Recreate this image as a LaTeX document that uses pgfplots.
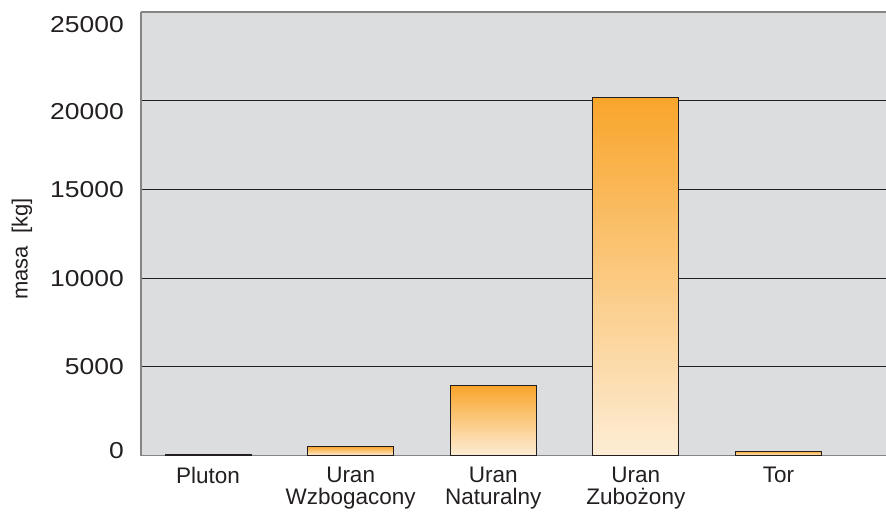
\documentclass[border=0pt]{standalone}
\usepackage{pgfplots}
\pgfplotsset{compat=1.18}
\usepackage{fontspec}
\setmainfont{Liberation Sans}
\newfontfamily\numfont{Liberation Sans}[FakeStretch=1.15]
\definecolor{bggray}{HTML}{DCDDDF}
\definecolor{axgray}{HTML}{858585}
\definecolor{gridk}{HTML}{231F20}
\definecolor{txt}{HTML}{231F20}
\definecolor{otop}{HTML}{F9A52B}
\definecolor{obot}{HTML}{FDEDD5}
\begin{document}
\begin{tikzpicture}
\path[use as bounding box] (0,0) rectangle (886pt,512pt);
\begin{axis}[
  at={(141pt,56.5pt)}, anchor=south west,
  scale only axis, width=745pt, height=443.5pt,
  xmin=-0.47, xmax=4.754, ymin=0, ymax=25000,
  axis x line=box, axis y line=left,
  axis line style={-, draw=axgray, line width=1.5pt},
  every outer y axis line/.append style={-},
  axis background/.style={fill=bggray},
  ymajorgrids, grid style={draw=gridk, line width=1pt},
  major tick length=0pt, tick style={draw=none},
  xtick={0,1,2,3,4},
  xticklabels={Pluton, Uran\\Wzbogacony, Uran\\Naturalny, Uran\\Zubożony, Tor},
  xticklabel style={align=center, anchor=north, inner sep=0pt, yshift=-11.5pt, font=\fontsize{22.5}{21.5}\selectfont, text=txt},
  ytick={0,5000,10000,15000,20000,25000},
  yticklabels={{\raisebox{4.5pt}[\height][\depth]{0}},5000,10000,15000,{\raisebox{-11pt}[\height][\depth]{20000}},{\raisebox{-13pt}[\height][\depth]{25000}}},
  yticklabel style={anchor=east, inner sep=0pt, xshift=-17pt, font=\fontsize{23}{24}\selectfont\numfont, text=txt},
  scaled y ticks=false,
  ybar, bar width=86pt, bar shift=0pt,
  clip=false,
  barstyle/.style={draw=gridk, line width=1pt, top color=otop, bottom color=obot},
]
\addplot[barstyle] coordinates {(0,80)};
\addplot[barstyle] coordinates {(1,500)};
\addplot[barstyle] coordinates {(2,3940)};
\addplot[barstyle] coordinates {(3,20200)};
\addplot[barstyle] coordinates {(4,250)};
\end{axis}
\node[rotate=90, font=\fontsize{22}{24}\selectfont, text=txt] at (22pt,263pt) {masa\ \ [kg]};
\end{tikzpicture}
\end{document}
